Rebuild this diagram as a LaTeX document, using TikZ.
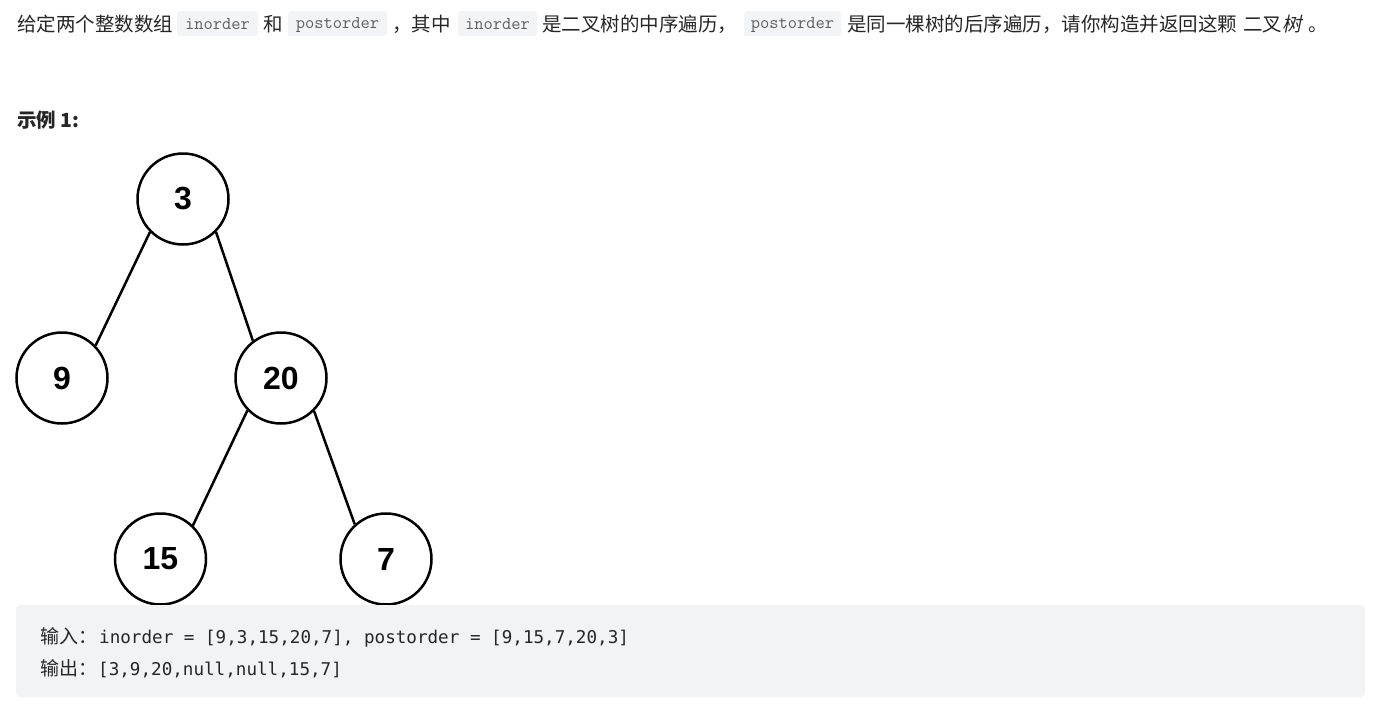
\documentclass[tikz,border=0pt]{standalone}
\usepackage{fontspec}
\setmainfont{Liberation Sans}
\newfontfamily\cjk{Noto Sans CJK SC}
\newfontfamily\cjkslant[FakeSlant=0.2]{Noto Sans CJK SC}
\newfontfamily\codefont{DejaVu Sans Mono}
\definecolor{txt}{RGB}{38,38,38}
\definecolor{codebg}{RGB}{242,243,245}
\definecolor{inlinebg}{RGB}{243,244,245}
\definecolor{inlinetxt}{RGB}{95,95,95}
\tikzset{
  cn/.style={anchor=base west, inner sep=0pt, text=txt, font=\cjk\fontsize{19.5}{22}\selectfont},
  inlinebox/.style={fill=inlinebg, draw=none, rounded corners=3pt},
  inlinecode/.style={inner sep=0pt, text=inlinetxt, font=\ttfamily\fontsize{18}{20}\selectfont},
  codetxt/.style={anchor=base west, inner sep=0pt, text=txt, font=\codefont\fontsize{17.6}{20}\selectfont},
  codecn/.style={anchor=base west, inner sep=0pt, text=txt, font=\cjk\fontsize{19}{22}\selectfont},
  treenode/.style={circle, draw=black, line width=2.5pt, minimum size=91pt, inner sep=0pt, font=\bfseries\fontsize{32}{32}\selectfont, text=black},
  edge/.style={draw=black, line width=2.5pt}
}
\begin{document}
\begin{tikzpicture}[x=1pt,y=-1pt]
\useasboundingbox (0,0) rectangle (1381,713);
% first line
\node[cn] (t1) at (17,31) {给定两个整数数组};
\path[inlinebox] (177,11) rectangle (258,36);
\node[inlinecode] (c1) at (217.5,24.5) {inorder};
\node[cn] (t2) at (263,31) {和};
\path[inlinebox] (288,11) rectangle (387,36);
\node[inlinecode] (c2) at (337.5,24.5) {postorder};
\node[cn] (t3) at (392,31) {，其中};
\path[inlinebox] (458,11) rectangle (537,36);
\node[inlinecode] (c3) at (497.5,24.5) {inorder};
\node[cn] (t4) at (542,31) {是二叉树的中序遍历，};
\path[inlinebox] (744,11) rectangle (841,36);
\node[inlinecode] (c4) at (792.5,24.5) {postorder};
\node[cn] (t5) at (847,31) {是同一棵树的后序遍历，请你构造并返回这颗};
\node[cn] (t6) at (1243,31) {二叉{\cjkslant 树}};
\node[cn] (t7) at (1308,31) {。};
% example label
\node[cn, font=\cjk\bfseries\fontsize{19.5}{22}\selectfont] (ex) at (17,127) {示例 1:};
% tree
\node[treenode] (n3) at (183,199) {3};
\node[treenode] (n9) at (62,378) {9};
\node[treenode] (n20) at (281,378) {20};
\node[treenode] (n15) at (160.5,559) {15};
\node[treenode] (n7) at (386,559) {7};
\draw[edge] (n3.225) -- (n9.44);
\draw[edge] (n3.-45) -- (n20.127);
\draw[edge] (n20.224) -- (n15.46);
\draw[edge] (n20.-45) -- (n7.132);
% code block
\path[fill=codebg, rounded corners=4pt] (16,605) rectangle (1365,697);
\node[codecn] (in) at (40,643) {输入：};
\node[codetxt] (inv) at (99,643) {inorder = [9,3,15,20,7], postorder = [9,15,7,20,3]};
\node[codecn] (out) at (40,675) {输出：};
\node[codetxt] (outv) at (98,675) {[3,9,20,null,null,15,7]};
\end{tikzpicture}
\end{document}
